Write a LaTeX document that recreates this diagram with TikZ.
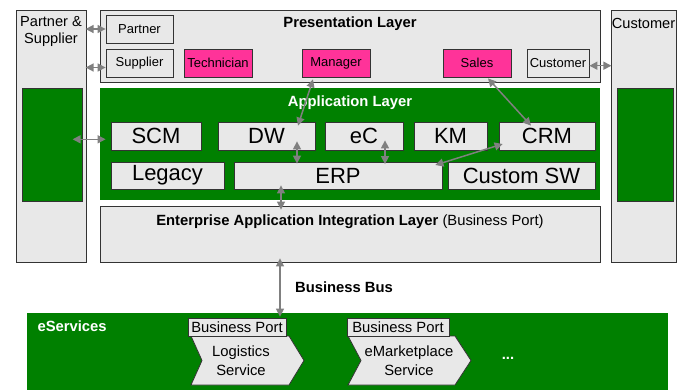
\documentclass[tikz,border=0pt]{standalone}
\usepackage{fontspec}
\setmainfont{Liberation Sans}
\usepackage{xcolor}
\definecolor{vert}{HTML}{008000}
\definecolor{grisclair}{HTML}{E8E8E8}
\definecolor{rose}{HTML}{FF3399}
\definecolor{grisfleche}{HTML}{808080}
\usepackage{tikz}
\usetikzlibrary{arrows.meta,calc}

\begin{document}
\begin{tikzpicture}[x=1pt,y=-1pt,font=\fontsize{14.8}{18}\selectfont,
  boite/.style={draw=black!80,fill=grisclair,line width=0.8pt,inner sep=0pt},
  appli/.style={boite,minimum height=28pt,font=\fontsize{22}{26}\selectfont},
  ecran/.style={boite,minimum height=28pt,font=\fontsize{13}{15}\selectfont},
  role/.style={ecran,fill=rose},
  lien/.style={draw=grisfleche,line width=1.5pt,
    {Triangle[length=8pt,width=8pt]}-{Triangle[length=8pt,width=8pt]}}]
\useasboundingbox (0,0) rectangle (684,389);
% bus des eServices en bas
\node[fill=vert,minimum width=641pt,minimum height=77pt,inner sep=0pt] (eservices) at (347.5,351.5) {};
\node[anchor=base west,white,font=\fontsize{14.8}{18}\selectfont\bfseries] (eservicestxt) at (34,331.7) {eServices};
% partenaires et clients sur les cotes
\node[boite,minimum width=70pt,minimum height=252pt] (partenaires) at (51,136) {};
\node[fill=vert,draw=black!80,line width=0.8pt,minimum width=60pt,minimum height=113pt] (partvert) at (52,144.5) {};
\node[align=center,font=\fontsize{14.6}{17.3}\selectfont] (partenairestxt) at (51,31.5) {Partner \&\\Supplier};
\node[boite,minimum width=65pt,minimum height=252pt] (clients) at (643.5,136) {};
\node[fill=vert,draw=black!80,line width=0.8pt,minimum width=56pt,minimum height=113pt] (clientvert) at (645,144.5) {};
\node[anchor=base,font=\fontsize{14.6}{17.3}\selectfont] (clientstxt) at (643.5,28.3) {Customer};
% couche de presentation
\node[boite,minimum width=500pt,minimum height=72pt] (presentation) at (350,46) {};
\node[anchor=base,font=\fontsize{14.8}{18}\selectfont\bfseries] (presentationtxt) at (350,27.5) {Presentation Layer};
\node[ecran,minimum width=67pt] (partner) at (139.5,29) {Partner};
\node[ecran,minimum width=67pt] (supplier) at (139.5,63) {Supplier};
\node[role,minimum width=68pt] (technician) at (218,63) {Technician};
\node[role,minimum width=68pt] (manager) at (336,63) {Manager};
\node[role,minimum width=68pt] (sales) at (477,63) {Sales};
\node[ecran,minimum width=62pt] (customer) at (558,63) {Customer};
% couche applicative
\node[fill=vert,minimum width=500pt,minimum height=112pt,inner sep=0pt] (application) at (350,144) {};
\node[anchor=base,white,font=\fontsize{14.8}{18}\selectfont\bfseries] (applicationtxt) at (350,106) {Application Layer};
\node[appli,minimum width=90pt] (scm) at (156,136) {SCM};
\node[appli,minimum width=97pt] (dw) at (266.5,136) {DW};
\node[appli,minimum width=78pt] (ec) at (364,136) {eC};
\node[appli,minimum width=73pt] (km) at (450.5,136) {KM};
\node[appli,minimum width=96pt] (crm) at (547,136) {CRM};
\node[appli,minimum width=113pt,minimum height=27pt] (legacy) at (167.5,175.5) {Legacy};
\node[appli,minimum width=208pt,minimum height=27pt] (erp) at (338,175.5) {ERP};
\node[appli,minimum width=147pt,minimum height=27pt] (customsw) at (521.5,175.5) {Custom SW};
% couche d'integration
\node[boite,minimum width=500pt,minimum height=56pt] (eai) at (350,234) {};
\node[anchor=base] (eaitxt) at (350,225.3) {\textbf{Enterprise Application Integration Layer} (Business Port)};
\node[anchor=base,font=\fontsize{14.8}{18}\selectfont\bfseries] (bus) at (344,292.7) {Business Bus};
% services avec leur port
\draw[boite] (191,336) -- (289,336) -- (304,360.5) -- (289,385) -- (191,385) -- (202,360.5) -- cycle;
\node[align=center,font=\fontsize{14.8}{18.5}\selectfont] (logistics) at (241,360.5) {Logistics\\Service};
\node[boite,minimum width=98pt,minimum height=18pt] (port1) at (237,327) {Business Port};
\draw[boite] (348,336) -- (455,336) -- (471,360.5) -- (455,385) -- (348,385) -- (361,360.5) -- cycle;
\node[align=center,font=\fontsize{14.8}{18.5}\selectfont] (marketplace) at (409,360.5) {eMarketplace\\Service};
\node[boite,minimum width=102pt,minimum height=18pt] (port2) at (398,327) {Business Port};
\node[white,font=\fontsize{14.8}{18}\selectfont\bfseries] (suite) at (508,358) {...};
% liaisons
\draw[lien] ($(partner.west)+(-20,0)$) -- (partner.west);
\draw[lien] ($(supplier.west)+(-20,4.5)$) -- ($(supplier.west)+(0,4.5)$);
\draw[lien] ($(scm.west)+(-38,3.3)$) -- ($(scm.west)+(-5,3.3)$);
\draw[lien] ($(customer.east)+(0,2.7)$) -- ($(customer.east)+(22,2.7)$);
\draw[lien] ($(manager.south)+(-23,2)$) -- ($(dw.north)+(31.5,4)$);
\draw[lien] ($(dw.south)+(30.5,-9)$) -- ($(erp.north)+(-41,2)$);
\draw[lien] ($(sales.south)+(11,1)$) -- ($(crm.north)+(-16,4)$);
\draw[lien] ($(ec.south)+(21,-10)$) -- ($(erp.north)+(47,2.5)$);
\draw[lien] ($(crm.west)+(4,8)$) -- ($(erp.east)+(-7,-10.5)$);
\draw[lien] ($(erp.south)+(-57,-4)$) -- ($(eai.north)+(-69,4)$);
\draw[lien] ($(eai.south)+(-70,-4)$) -- ($(port1.north)+(43,-1)$);
\end{tikzpicture}
\end{document}
